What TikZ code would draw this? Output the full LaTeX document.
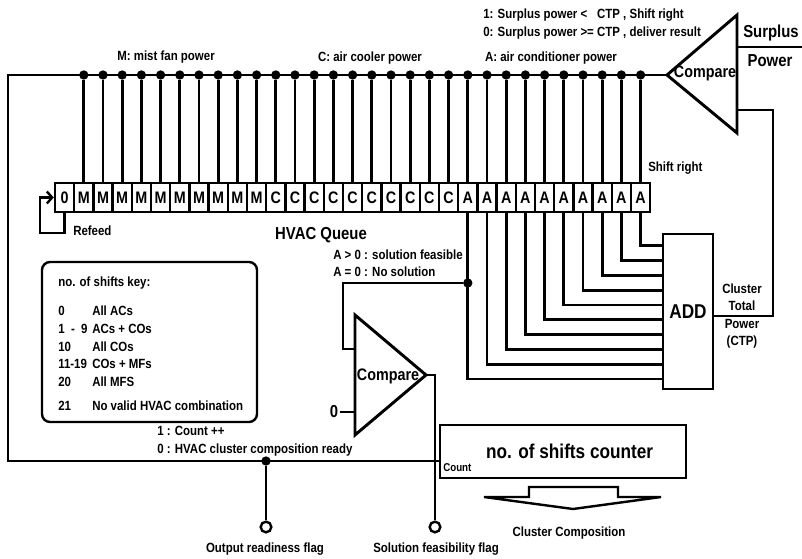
\documentclass[tikz,border=0pt]{standalone}
\usepackage{fontspec}
\setmainfont[FakeStretch=0.86]{Liberation Sans}
\usetikzlibrary{arrows.meta}
\tikzset{
  wire/.style={line width=2.2pt},
  cell/.style={draw,line width=1.8pt,minimum width=14.4pt,minimum height=21.75pt,inner sep=0pt,font=\fontsize{12.5}{12.5}\selectfont\bfseries},
  lbl/.style={font=\fontsize{10}{11}\selectfont\bfseries,inner sep=0pt},
  big/.style={font=\fontsize{13}{14}\selectfont\bfseries,inner sep=0pt},
  tap/.style={circle,fill,inner sep=0pt,minimum size=7pt},
  flag/.style={circle,draw,line width=1.8pt,fill=white,inner sep=0pt,minimum size=8pt},
}
\begin{document}
\begin{tikzpicture}[x=0.75pt,y=-0.75pt]
    \useasboundingbox (0,0) rectangle (802,559);

    % HVAC queue
    \node[cell] (q0) at ({55+19.2*0.5},197.5) {0};
    \foreach \i in {1,...,10}
    \node[cell] (q\i) at ({55+19.2*(\i+0.5)},197.5) {M};
    \foreach \i in {11,...,20}
    \node[cell] (q\i) at ({55+19.2*(\i+0.5)},197.5) {C};
    \foreach \i in {21,...,30}
    \node[cell] (q\i) at ({55+19.2*(\i+0.5)},197.5) {A};

    % power bus and taps
    \coordinate (tl) at (8,75);
    \coordinate (bl) at (8,461);
    \foreach \i in {1,...,30} {
    \node[tap] (t\i) at ({55+19.2*(\i+0.5)},75) {};
    \draw[wire] (t\i) -- (q\i.north);
    }

    % big comparator
    \coordinate (cmpTip) at (667,75);
    \coordinate (cmpTop) at (737,15);
    \coordinate (cmpBot) at (737,133);
    \coordinate (cmpIn1) at (737,47);
    \coordinate (cmpIn2) at (737,110);
    \coordinate (spw) at (802,47);
    \draw[wire,line join=miter] (cmpTip) -- (cmpTop) -- (cmpBot) -- cycle;
    \node[font=\fontsize{12.5}{12.5}\selectfont\bfseries,inner sep=0pt] (cmpL) at (705,73) {Compare};
    \draw[wire] (cmpIn1) -- (spw);
    \node[font=\fontsize{13}{13}\selectfont\bfseries,inner sep=0pt] (spA) at (771,33) {Surplus};
    \node[font=\fontsize{13}{13}\selectfont\bfseries,inner sep=0pt] (spB) at (770,61) {Power};

    % ADD block
    \node[draw,wire,minimum width=37.5pt,minimum height=116.25pt,inner sep=0pt,font=\fontsize{15}{15}\selectfont\bfseries] (add) at (688,311.5) {ADD};
    \foreach \k in {0,...,9} {
    \pgfmathtruncatemacro\c{21+\k}
    \coordinate (ain\k) at (663,{379-14.8*\k});
    \draw[wire] (q\c.south) |- (ain\k);
    }
    \coordinate (fbB) at (773,316);
    \coordinate (fbA) at (773,110);
    \draw[wire] (add.east |- fbB) -- (fbB) -- (fbA) -- (cmpIn2);
    \node[lbl,align=center,font=\fontsize{10}{13}\selectfont\bfseries] (ctp) at (742,316) {Cluster\\Total\\Power\\(CTP)};

    % refeed loop
    \coordinate (rfB) at (40,233);
    \draw[wire,-{Straight Barb[length=4pt,width=9pt,line width=1.8pt]}] (q0.south) |- (rfB) |- (q0.west);
    \node[lbl,anchor=west] (refeed) at (73,231) {Refeed};

    % text labels
    \node[lbl] (mlab) at (166,57) {M: mist fan power};
    \node[lbl] (clab) at (370,58) {C: air cooler power};
    \node[lbl] (alab) at (551,58) {A: air conditioner power};
    \node[lbl,anchor=west,align=left,font=\fontsize{10}{13.5}\selectfont\bfseries] (rule) at (483,24) {1: Surplus power <\phantom{=} CTP , Shift right\\0: Surplus power >= CTP , deliver result};
    \node[lbl,anchor=west] (shr) at (648,168) {Shift right};
    \node[big] (hq) at (321,235) {HVAC Queue};
    \node[lbl,anchor=west,align=left,font=\fontsize{10}{13}\selectfont\bfseries] (feasL) at (333,263.5) {A > 0 : solution feasible\\A = 0 : No solution};

    % small comparator
    \node[tap] (feas) at ({55+19.2*21.5},283) {};
    \coordinate (sTop) at (355,315);
    \coordinate (sBot) at (355,435);
    \coordinate (sTip) at (426,375);
    \coordinate (sIn1) at (355,349);
    \coordinate (sIn0) at (355,412);
    \coordinate (sBend) at (343,349);
    \coordinate (sOut) at (435,375);
    \draw[wire,line join=miter] (sTip) -- (sTop) -- (sBot) -- cycle;
    \node[font=\fontsize{12.5}{12.5}\selectfont\bfseries,inner sep=0pt] (sL) at (388,376) {Compare};
    \draw[wire] (feas) -| (sBend) -- (sIn1);
    \node[font=\fontsize{13}{13}\selectfont\bfseries,inner sep=1pt] (zero) at (334,412) {0};
    \draw[wire] (zero) -- (sIn0);

    % key box
    \node[draw,line width=1.8pt,rounded corners=6pt,minimum width=161.25pt,minimum height=120pt] (key) at (149.5,342) {};
    \node[lbl,anchor=west] (kt) at (58,283) {no. of shifts key:};
    \foreach \y/\a/\b in {311/0/All ACs, 329/1 \ - \ 9/ACs + COs, 347/10/All COs, 364/11-19/COs + MFs, 382/20/All MFS, 406/21/No valid HVAC combination} {
    \node[lbl,anchor=west] at (58,\y) {\a};
    \node[lbl,anchor=west] at (92,\y) {\b};
    }
    \node[lbl,anchor=west,align=left,font=\fontsize{10}{13.5}\selectfont\bfseries] (cntL) at (157,441) {1 : Count ++\\0 : HVAC cluster composition ready};

    % counter and flags
    \node[draw,wire,minimum width=184.5pt,minimum height=39.75pt,font=\fontsize{15}{15}\selectfont\bfseries] (cnt) at (563,451.5) {\hspace{10pt}no. of shifts counter};
    \node[font=\fontsize{8.5}{8.5}\selectfont\bfseries,anchor=west,inner sep=0pt] (cntIn) at (443,468) {Count};
    \draw[wire] (cmpTip) -- (tl) -- (bl) -- (bl -| cnt.west);
    \node[tap] (rdy) at (266,461) {};
    \node[flag] (rflag) at (266,527) {};
    \draw[wire] (rdy) -- (rflag);
    \node[lbl] (rflagL) at (265,549) {Output readiness flag};
    \node[flag] (fflag) at (435,527) {};
    \draw[wire] (sTip) -- (sOut) -- (fflag);
    \node[lbl] (fflagL) at (436,549) {Solution feasibility flag};

    % output arrow
    \draw[line width=1.8pt,fill=white,line join=miter] (529,487) -- (618,487) -- (618,497) -- (661,497) -- (573,509) -- (484,497) -- (529,497) -- cycle;
    \node[lbl] (ccomp) at (569,533) {Cluster Composition};
\end{tikzpicture}
\end{document}
